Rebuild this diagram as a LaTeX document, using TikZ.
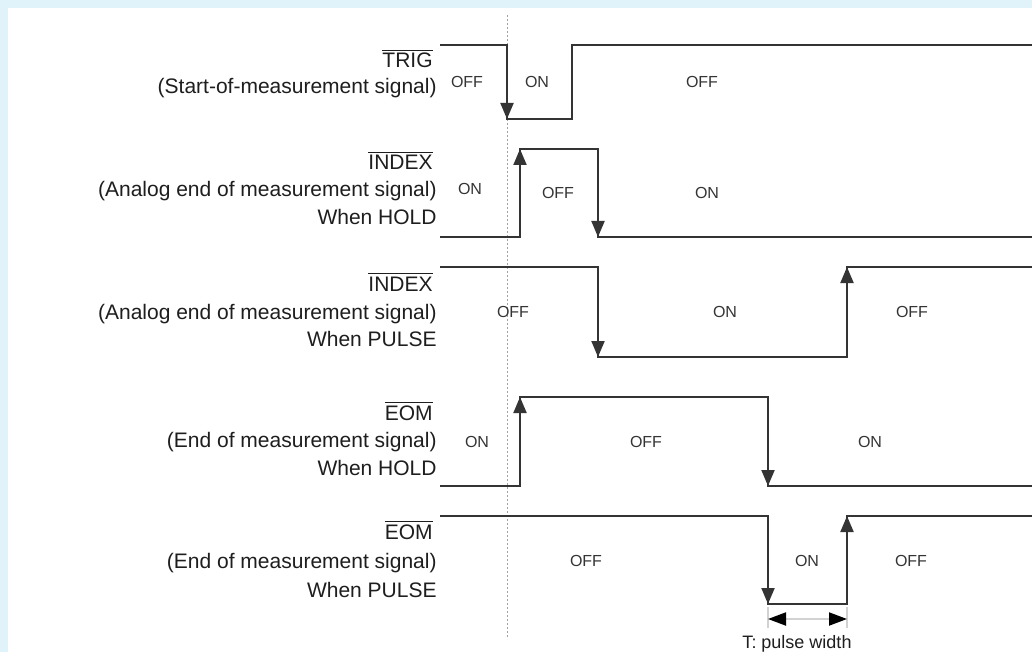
\documentclass[tikz,border=0pt]{standalone}
\usepackage{fontspec}
\setmainfont{Liberation Sans}
\usetikzlibrary{arrows.meta}
\definecolor{MarcoAzul}{RGB}{224,242,250}
\definecolor{TrazoOscuro}{RGB}{52,52,52}
\definecolor{TextoOscuro}{RGB}{30,30,30}
\definecolor{GuiaGris}{RGB}{160,160,160}
\definecolor{CotaGris}{RGB}{210,210,210}
\newcommand{\negsig}[1]{$\overline{\mbox{#1}}$}
\tikzset{
  wave/.style={draw=TrazoOscuro, line width=1pt, line join=miter},
  edgearr/.style={-{Triangle[length=8pt, width=6.5pt]}, draw=TrazoOscuro, line width=1pt},
  refline/.style={draw=GuiaGris, line width=0.4pt, dash pattern=on 1.2pt off 0.8pt},
  sigtitle/.style={anchor=base east, inner sep=0pt, text=TextoOscuro,
    font=\fontsize{10.5}{12}\selectfont},
  sigdesc/.style={anchor=base east, inner sep=0pt, text=TextoOscuro,
    font=\fontsize{10.5}{12}\selectfont},
  statelbl/.style={inner sep=0pt, text=TrazoOscuro, font=\fontsize{8}{9}\selectfont},
  extline/.style={draw=CotaGris, line width=0.6pt},
  dimline/.style={{Triangle[length=9pt, width=6.5pt, color=black]}-{Triangle[length=9pt, width=6.5pt, color=black]},
    draw=CotaGris, line width=1pt},
}
\begin{document}
\begin{tikzpicture}[x=0.5pt, y=-0.5pt]
  % marco
  \fill[MarcoAzul] (0,0) rectangle (1032,652);
  \fill[white] (8,8) rectangle (1032,652);
  \useasboundingbox (0,0) rectangle (1032,652);

  % linea de referencia
  \draw[refline] (507,15) -- (507,639);

  % ---- TRIG ----
  \node[sigtitle] (trigT) at (433,68) {\negsig{TRIG}};
  \node[sigdesc] (trigD) at (437,94) {(Start-of-measurement signal)};
  \draw[wave] (440,45) -- (507,45) -- (507,119) -- (572,119) -- (572,45) -- (1032,45);
  \draw[edgearr] (507,90) -- (507,119);
  \node[statelbl] (trigS1) at (467,82) {OFF};
  \node[statelbl] (trigS2) at (537,82) {ON};
  \node[statelbl] (trigS3) at (702,82) {OFF};

  % ---- INDEX (HOLD) ----
  \node[sigtitle] (idxhT) at (433,170) {\negsig{INDEX}};
  \node[sigdesc] (idxhD) at (437,197) {(Analog end of measurement signal)};
  \node[sigdesc] (idxhM) at (437,225) {When HOLD};
  \draw[wave] (440,237) -- (520,237) -- (520,149) -- (598,149) -- (598,237) -- (1032,237);
  \draw[edgearr] (520,180) -- (520,149);
  \draw[edgearr] (598,200) -- (598,237);
  \node[statelbl] (idxhS1) at (470,189) {ON};
  \node[statelbl] (idxhS2) at (558,193) {OFF};
  \node[statelbl] (idxhS3) at (707,193) {ON};

  % ---- INDEX (PULSE) ----
  \node[sigtitle] (idxpT) at (433,291) {\negsig{INDEX}};
  \node[sigdesc] (idxpD) at (437,319) {(Analog end of measurement signal)};
  \node[sigdesc] (idxpM) at (437,346) {When PULSE};
  \draw[wave] (440,267) -- (598,267) -- (598,357) -- (847,357) -- (847,267) -- (1032,267);
  \draw[edgearr] (598,320) -- (598,357);
  \draw[edgearr] (847,300) -- (847,267);
  \node[statelbl] (idxpS1) at (513,312) {OFF};
  \node[statelbl] (idxpS2) at (725,312) {ON};
  \node[statelbl] (idxpS3) at (912,312) {OFF};

  % ---- EOM (HOLD) ----
  \node[sigtitle] (eomhT) at (433,420) {\negsig{EOM}};
  \node[sigdesc] (eomhD) at (437,447) {(End of measurement signal)};
  \node[sigdesc] (eomhM) at (437,475) {When HOLD};
  \draw[wave] (440,486) -- (520,486) -- (520,397) -- (768,397) -- (768,486) -- (1032,486);
  \draw[edgearr] (520,430) -- (520,397);
  \draw[edgearr] (768,450) -- (768,486);
  \node[statelbl] (eomhS1) at (477,442) {ON};
  \node[statelbl] (eomhS2) at (646,442) {OFF};
  \node[statelbl] (eomhS3) at (870,442) {ON};

  % ---- EOM (PULSE) ----
  \node[sigtitle] (eompT) at (433,539) {\negsig{EOM}};
  \node[sigdesc] (eompD) at (437,568) {(End of measurement signal)};
  \node[sigdesc] (eompM) at (437,597) {When PULSE};
  \draw[wave] (440,516) -- (768,516) -- (768,604) -- (847,604) -- (847,516) -- (1032,516);
  \draw[edgearr] (768,570) -- (768,604);
  \draw[edgearr] (847,550) -- (847,516);
  \node[statelbl] (eompS1) at (586,561) {OFF};
  \node[statelbl] (eompS2) at (807,561) {ON};
  \node[statelbl] (eompS3) at (911,561) {OFF};

  % ancho de pulso
  \coordinate (pwA) at (768,619);
  \coordinate (pwB) at (847,619);
  \draw[extline] (768,607) -- (768,628);
  \draw[extline] (847,607) -- (847,628);
  \draw[dimline] (pwA) -- (pwB);
  \node[anchor=base, inner sep=0pt, text=TextoOscuro, font=\fontsize{9}{10}\selectfont]
    (pwL) at (797,648) {T: pulse width};
\end{tikzpicture}
\end{document}
